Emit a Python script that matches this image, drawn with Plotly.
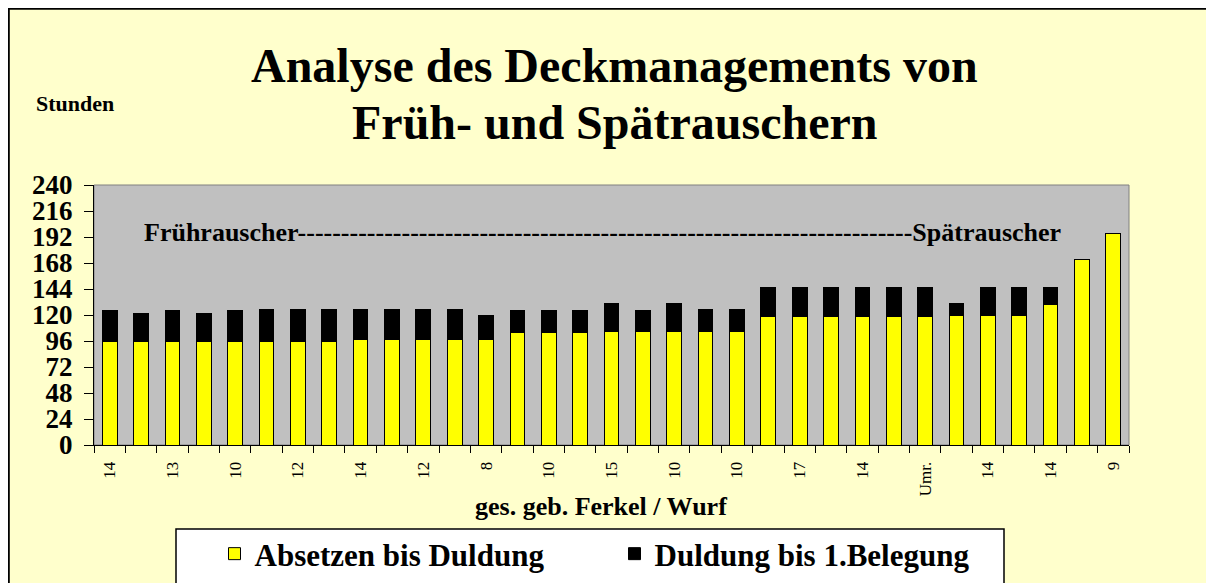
import plotly.graph_objects as go

# ---- data ----
labels = ["14", "", "13", "", "10", "", "12", "", "14", "", "12", "", "8", "", "10", "",
          "15", "", "10", "", "10", "", "17", "", "14", "", "Umr.", "", "14", "", "14", "", "9"]
absetzen_bis_duldung = [96, 96, 96, 96, 96, 96, 96, 96, 97, 97, 97, 97, 97, 104, 104, 104,
                        105, 105, 105, 105, 105, 119, 119, 119, 119, 119, 119, 120, 120, 120,
                        130, 171, 195]
gesamt = [124, 121, 124, 121, 124, 125, 125, 125, 125, 125, 125, 125, 120, 124, 124, 124,
          131, 124, 131, 125, 125, 145, 145, 145, 145, 145, 145, 131, 145, 145, 145, 171, 195]
duldung_bis_belegung = [g - a for g, a in zip(gesamt, absetzen_bis_duldung)]
y_ticks = [0, 24, 48, 72, 96, 120, 144, 168, 192, 216, 240]

FONT = "Liberation Serif"
W, H = 1214, 583
OFF = 8  # page body margin: figure origin sits at page (8, 8)
L, R, T, B = 86, 93, 177, 146
PW, PH = W - L - R, H - T - B


def px(x):  # page pixel x -> paper
    return (x - OFF - L) / PW


def py(y):  # page pixel y -> paper
    return (H - B - (y - OFF)) / PH


idx = list(range(len(labels)))

fig = go.Figure()
fig.add_trace(go.Bar(
    x=idx, y=absetzen_bis_duldung, name="Absetzen bis Duldung",
    marker=dict(color="#FFFF00", line=dict(color="black", width=1)),
))
fig.add_trace(go.Bar(
    x=idx, y=duldung_bis_belegung, name="Duldung bis 1.Belegung",
    marker=dict(color="#000000", line=dict(color="black", width=1)),
))

shapes = [
    # chart frame (left / top)
    dict(type="line", xref="paper", yref="paper", x0=px(8), x1=px(W + 20), y0=py(8.8), y1=py(8.8),
         line=dict(color="black", width=2)),
    dict(type="line", xref="paper", yref="paper", x0=px(8.8), x1=px(8.8), y0=py(8), y1=py(H + 20),
         line=dict(color="black", width=2)),
    # plot-area frame (grey)
    dict(type="rect", xref="paper", yref="paper", x0=0, x1=1, y0=0, y1=1,
         line=dict(color="#808080", width=1), layer="below"),
    # legend box
    dict(type="rect", xref="paper", yref="paper", x0=px(176), x1=px(1004), y0=py(H + 20), y1=py(529),
         fillcolor="white", line=dict(color="black", width=1.5)),
]

annotations = [
    dict(text="<b>Analyse des Deckmanagements von</b>", x=px(614), y=py(65), xref="paper", yref="paper",
         showarrow=False, xanchor="center", yanchor="middle",
         font=dict(family=FONT, size=48, color="black")),
    dict(text="<b>Früh- und Spätrauschern</b>", x=px(614), y=py(122), xref="paper", yref="paper",
         showarrow=False, xanchor="center", yanchor="middle",
         font=dict(family=FONT, size=48, color="black")),
    dict(text="<b>Stunden</b>", x=px(34), y=py(103), xref="paper", yref="paper",
         showarrow=False, xanchor="left", yanchor="middle",
         font=dict(family=FONT, size=22, color="black")),
    dict(text="<b>Frührauscher" + "-" * 71 + "Spätrauscher</b>", x=px(142), y=py(232),
         xref="paper", yref="paper", showarrow=False, xanchor="left", yanchor="middle",
         font=dict(family=FONT, size=26, color="black")),
    dict(text="<b>ges. geb. Ferkel / Wurf</b>", x=px(601), y=py(506), xref="paper", yref="paper",
         showarrow=False, xanchor="center", yanchor="middle",
         font=dict(family=FONT, size=26, color="black")),
]

fig.update_layout(
    width=W, height=H,
    margin=dict(l=L, r=R, t=T, b=B, autoexpand=False),
    barmode="stack", bargap=0.53,
    paper_bgcolor="#FFFFCC", plot_bgcolor="#C0C0C0",
    font=dict(family=FONT, color="black"),
    showlegend=True,
    legend=dict(orientation="h", x=px(214.5), xanchor="left", y=py(554), yanchor="middle",
                bgcolor="rgba(0,0,0,0)", borderwidth=0, entrywidth=355, entrywidthmode="pixels",
                font=dict(family=FONT, size=31, color="black", weight="bold"),
                traceorder="normal"),
    shapes=shapes, annotations=annotations,
    xaxis=dict(
        range=[-0.5, len(labels) - 0.5], tickmode="array", tickvals=idx, ticktext=labels,
        tickangle=-90, ticks="", showline=True, linecolor="black", linewidth=1,
        showgrid=False, zeroline=False, ticklabelstandoff=9,
        tickfont=dict(family=FONT, size=17, color="black"),
        minor=dict(tickmode="array", tickvals=[i - 0.5 for i in range(len(labels) + 1)],
                   ticks="outside", ticklen=7, tickcolor="black", tickwidth=1, showgrid=False),
    ),
    yaxis=dict(
        range=[0, 240], tickmode="array", tickvals=y_ticks, ticks="outside", ticklen=9,
        tickcolor="black", showline=True, linecolor="black", linewidth=1,
        showgrid=False, zeroline=False, ticklabelstandoff=6,
        tickfont=dict(family=FONT, size=27, color="black", weight="bold"),
    ),
)

fig.write_html("out.html")
